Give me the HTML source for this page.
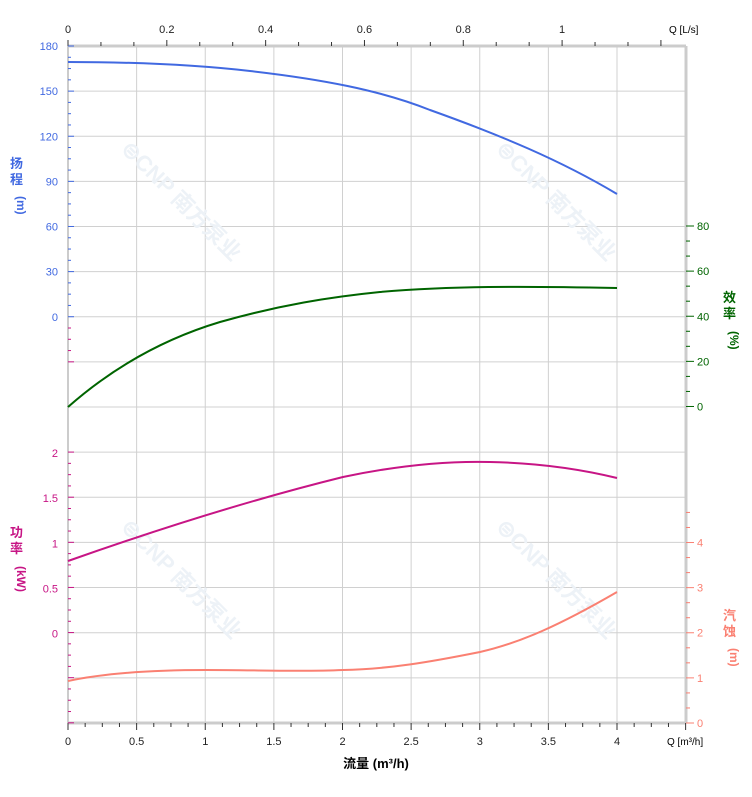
<!DOCTYPE html><html><head><meta charset="utf-8"><style>body{margin:0;background:#fff}svg{display:block}text{font-family:"Liberation Sans","Noto Sans CJK SC",sans-serif;font-size:11px}</style></head><body>
<svg id="s" width="752" height="797" xmlns="http://www.w3.org/2000/svg">
<g id="grid" stroke="#d0d0d0" stroke-width="1"></g>
<g fill="#edf2f7" font-weight="bold" font-size="22">
<text x="120" y="150" transform="rotate(45 120 150)" style="font-size:22px;font-weight:bold">⊜CNP 南方泵业</text>
<text x="495" y="150" transform="rotate(45 495 150)" style="font-size:22px;font-weight:bold">⊜CNP 南方泵业</text>
<text x="120" y="528" transform="rotate(45 120 528)" style="font-size:22px;font-weight:bold">⊜CNP 南方泵业</text>
<text x="495" y="528" transform="rotate(45 495 528)" style="font-size:22px;font-weight:bold">⊜CNP 南方泵业</text>
</g>
<g id="ax"></g>
<g fill="none" stroke-width="2">
<path stroke="#4169e1" d="M68,62 C150,62 206,66 250,71 C320,79 380,90 430,110 C500,135 560,160 617,194"/>
<path stroke="#006400" d="M68,407 C110,370 160,340 220,322 C280,305 330,297 380,292 C450,286 520,286 617,288"/>
<path stroke="#c71585" d="M68,561 C150,532 250,500 343,477 C400,465 450,461 490,462 C540,463 580,469 617,478"/>
<path stroke="#fa8072" d="M68,681 C110,672 160,670 206,670 C260,670 300,672 343,670 C390,669 430,662 480,652 C520,643 560,625 617,592"/>
</g>
<g id="lab"></g>
<text x="376" y="768" text-anchor="middle" style="font-size:13px;font-weight:bold">流量 (m³/h)</text>
<text x="669" y="33" style="font-size:10px">Q [L/s]</text>
<text x="667" y="745" style="font-size:10px">Q [m³/h]</text>
<g style="font-size:13px;font-weight:bold">
<text x="10" y="168" fill="#4169e1" style="font-size:13px">扬</text><text x="10" y="184" fill="#4169e1" style="font-size:13px">程</text>
<text x="17" y="196" fill="#4169e1" transform="rotate(90 17 196)" style="font-size:12px">(m)</text>
<text x="10" y="537" fill="#c71585" style="font-size:13px">功</text><text x="10" y="553" fill="#c71585" style="font-size:13px">率</text>
<text x="17" y="566" fill="#c71585" transform="rotate(90 17 566)" style="font-size:12px">(kW)</text>
<text x="723" y="302" fill="#006400" style="font-size:13px">效</text><text x="723" y="318" fill="#006400" style="font-size:13px">率</text>
<text x="730" y="331" fill="#006400" transform="rotate(90 730 331)" style="font-size:12px">(%)</text>
<text x="723" y="620" fill="#fa8072" style="font-size:13px">汽</text><text x="723" y="636" fill="#fa8072" style="font-size:13px">蚀</text>
<text x="730" y="648" fill="#fa8072" transform="rotate(90 730 648)" style="font-size:12px">(m)</text>
</g>
</svg>
<script>
var NS="http://www.w3.org/2000/svg";
function el(p,t,a,txt){var e=document.createElementNS(NS,t);for(var k in a)e.setAttribute(k,a[k]);if(txt!=null)e.textContent=txt;document.getElementById(p).appendChild(e);return e;}
var g="grid",a="ax",l="lab";
for(var i=0;i<=9;i++){var x=68+i*68.625;el(g,"line",{x1:x,y1:46,x2:x,y2:723});}
for(var j=0;j<=15;j++){var y=46+j*45.13;el(g,"line",{x1:68,y1:y,x2:686,y2:y});}
el(a,"line",{x1:68,y1:46,x2:686,y2:46,stroke:"#ccc","stroke-width":3});
el(a,"line",{x1:68,y1:723,x2:686,y2:723,stroke:"#ccc","stroke-width":3});
el(a,"line",{x1:68,y1:46,x2:68,y2:723,stroke:"#ccc","stroke-width":2});
el(a,"line",{x1:686,y1:46,x2:686,y2:723,stroke:"#ccc","stroke-width":3});
var px=137.25*3.6;
for(var k=0;k*px/15<=618;k++){var x=68+k*px/15,maj=k%3==0;el(a,"line",{x1:x,y1:46,x2:x,y2:maj?40:42,stroke:"#333"});if(maj&&k/15<=1.1){var v=k/15;el(l,"text",{x:x,y:33,"text-anchor":"middle",fill:"#222"},v==0?"0":(Math.round(v*10)/10)+"");}}
for(var k=0;k<=36;k++){var x=68+k*137.25/8,maj=k%4==0;el(a,"line",{x1:x,y1:723,x2:x,y2:maj?730:727,stroke:"#333"});if(maj&&k<=32){el(l,"text",{x:x,y:745,"text-anchor":"middle",fill:"#222"},(k/8)+"");}}
for(var k=0;k<=28;k++){var y=46+k*11.28;el(a,"line",{x1:68,y1:y,x2:k%4==0?74:71,y2:y,stroke:k<=24?"#4169e1":"#c71585"});}
[180,150,120,90,60,30,0].forEach(function(v,i){el(l,"text",{x:58,y:50+i*45.13,"text-anchor":"end",fill:"#4169e1"},v);});
for(var k=36;k<=60;k++){var y=46+k*11.28;el(a,"line",{x1:68,y1:y,x2:k%4==0?74:71,y2:y,stroke:"#c71585"});}
["2","1.5","1","0.5","0"].forEach(function(v,i){el(l,"text",{x:58,y:457+i*45.13,"text-anchor":"end",fill:"#c71585"},v);});
for(var k=0;k<=12;k++){var y=226+k*15.04;el(a,"line",{x1:686,y1:y,x2:k%3==0?694:690,y2:y,stroke:"#006400"});}
["80","60","40","20","0"].forEach(function(v,i){el(l,"text",{x:697,y:230+i*45.13,fill:"#006400"},v);});
for(var k=0;k<=14;k++){var y=723-k*15.04;el(a,"line",{x1:686,y1:y,x2:k%3==0?694:690,y2:y,stroke:"#fa8072"});}
["0","1","2","3","4"].forEach(function(v,i){el(l,"text",{x:697,y:727-i*45.13,fill:"#fa8072"},v);});
</script>
</body></html>
